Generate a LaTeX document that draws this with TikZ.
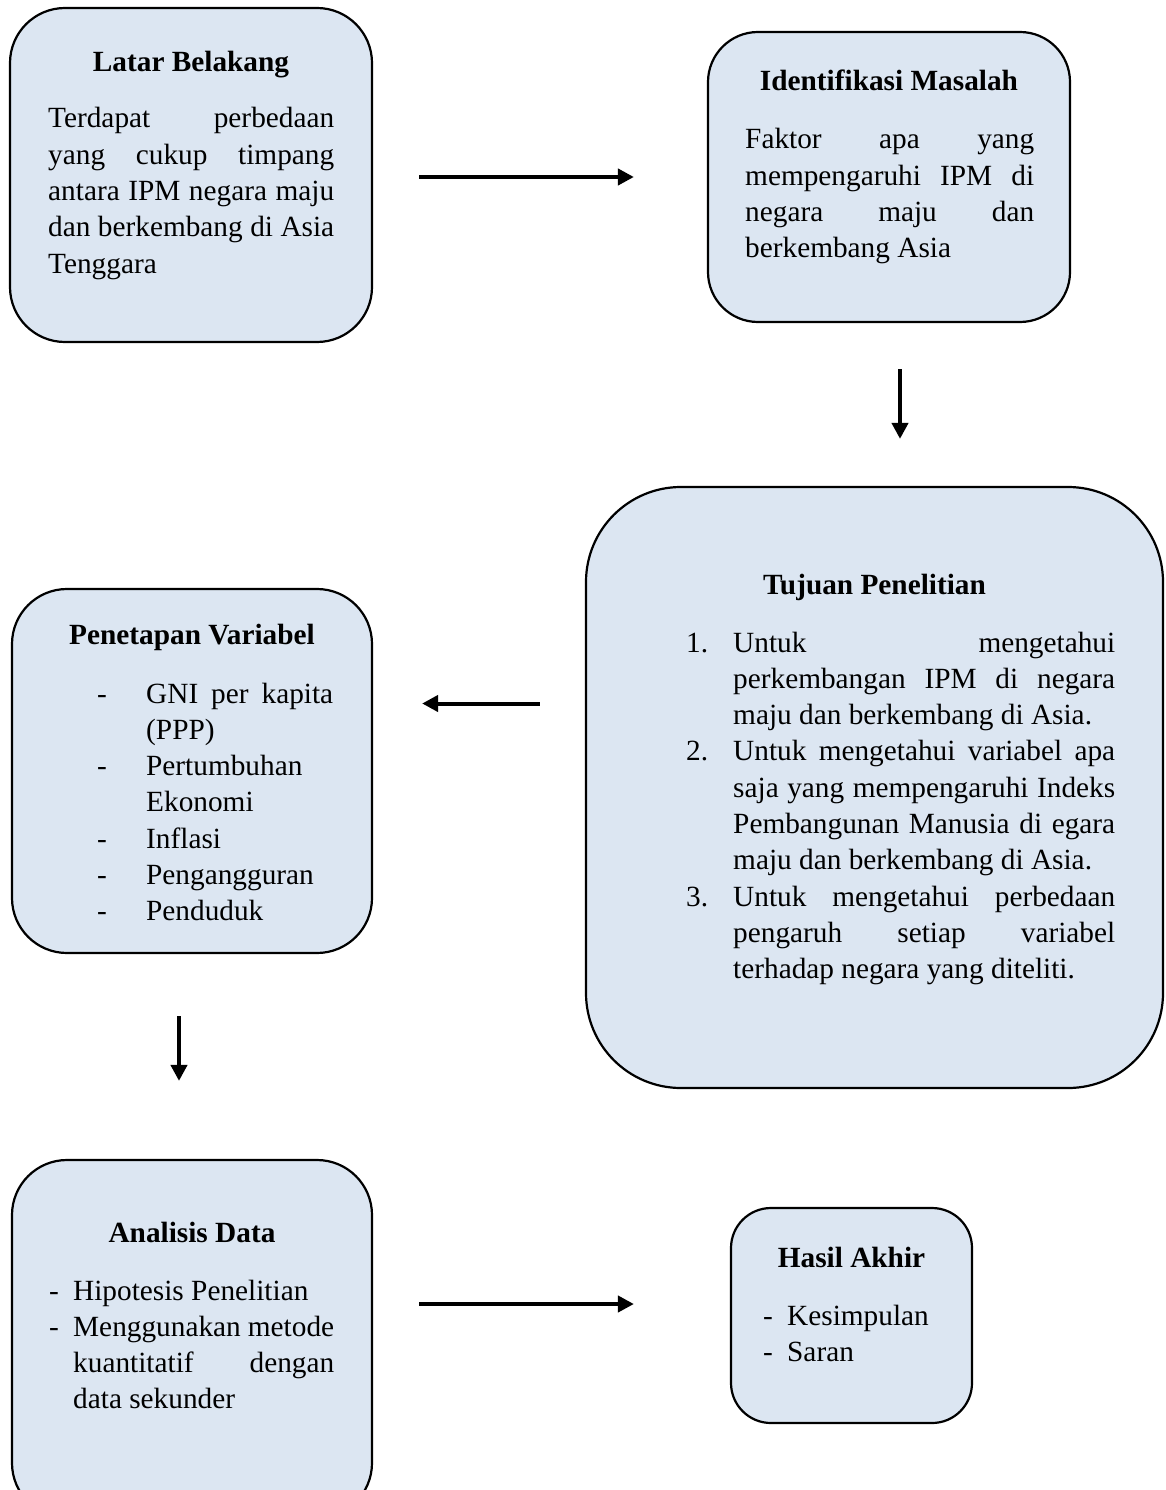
\documentclass[tikz,border=0pt]{standalone}
\usepackage{fontspec}
\setmainfont{Liberation Serif}
\usetikzlibrary{arrows.meta}
\definecolor{boxfill}{RGB}{220,230,242}
\hyphenpenalty=10000
\exhyphenpenalty=10000
\newcommand\listmark[2]{\leavevmode\llap{\makebox[#1][l]{#2}}}

\begin{document}
\begin{tikzpicture}[x=1pt, y=-1pt,
  panel/.style={draw, line width=2.2pt, fill=boxfill, inner sep=0pt},
  heading/.style={font=\fontsize{29.3}{36.3}\selectfont\bfseries, anchor=base, inner sep=0pt},
  body/.style={font=\fontsize{29.3}{36.3}\selectfont, anchor=base west, inner sep=0pt, align=justify},
  flowarrow/.style={line width=4pt, -{Triangle[length=16pt,width=16pt]}}]
\useasboundingbox (0,0) rectangle (1165,1490);
\clip (0,0) rectangle (1165,1490);

\node[panel, minimum width=362pt, minimum height=334pt, rounded corners=55pt] (latar) at (191,175) {};
\node[panel, minimum width=362pt, minimum height=290pt, rounded corners=50pt] (identifikasi) at (889,177) {};
\node[panel, minimum width=577pt, minimum height=601pt, rounded corners=95pt] (tujuan) at (874.5,787.5) {};
\node[panel, minimum width=360pt, minimum height=364pt, rounded corners=55pt] (penetapan) at (192,771) {};
\node[panel, minimum width=360pt, minimum height=358pt, rounded corners=55pt] (analisis) at (192,1339) {};
\node[panel, minimum width=241pt, minimum height=215pt, rounded corners=40pt] (hasil) at (851.5,1315.5) {};

\node[heading] (latar-t) at (191,72) {Latar Belakang};
\node[body, text width=286pt] (latar-b) at (48,128) {Terdapat perbedaan\linebreak yang cukup timpang\linebreak antara IPM negara maju\linebreak dan berkembang di Asia\linebreak Tenggara};

\node[heading] (identifikasi-t) at (889,91) {Identifikasi Masalah};
\node[body, text width=289pt] (identifikasi-b) at (745,149) {Faktor apa yang\linebreak mempengaruhi IPM di\linebreak negara maju dan\linebreak berkembang Asia};

\node[heading] (tujuan-t) at (874.5,594) {Tujuan Penelitian};
\node[body, text width=382pt] (tujuan-b) at (733,652) {%
  \listmark{47pt}{1.}Untuk mengetahui\linebreak perkembangan IPM di negara\linebreak maju dan berkembang di Asia.\par
  \listmark{47pt}{2.}Untuk mengetahui variabel apa\linebreak saja yang mempengaruhi Indeks\linebreak Pembangunan Manusia di egara\linebreak maju dan berkembang di Asia.\par
  \listmark{47pt}{3.}Untuk mengetahui perbedaan\linebreak pengaruh setiap variabel\linebreak terhadap negara yang diteliti.};

\node[heading] (penetapan-t) at (192,644) {Penetapan Variabel};
\node[body, text width=187pt] (penetapan-b) at (146,703) {%
  \listmark{49pt}{-}GNI per kapita\linebreak (PPP)\par
  \listmark{49pt}{-}Pertumbuhan\newline Ekonomi\par
  \listmark{49pt}{-}Inflasi\par
  \listmark{49pt}{-}Pengangguran\par
  \listmark{49pt}{-}Penduduk};

\node[heading] (analisis-t) at (192,1242) {Analisis Data};
\node[body, text width=261pt] (analisis-b) at (73,1300) {%
  \listmark{24pt}{-}Hipotesis Penelitian\par
  \listmark{24pt}{-}Menggunakan metode\linebreak kuantitatif dengan\linebreak data sekunder};

\node[heading] (hasil-t) at (851.5,1267) {Hasil Akhir};
\node[body, text width=160pt] (hasil-b) at (787,1325) {%
  \listmark{24pt}{-}Kesimpulan\par
  \listmark{24pt}{-}Saran};

\draw[flowarrow, shorten <=46pt, shorten >=73pt] (latar.east |- identifikasi.west) -- (identifikasi.west);
\draw[flowarrow, shorten <=46pt, shorten >=47pt] ([xshift=11pt]identifikasi.south) -- ([xshift=11pt]identifikasi.south |- tujuan.north);
\draw[flowarrow, shorten <=45pt, shorten >=49pt] ([yshift=84pt]tujuan.west) -- ([yshift=84pt]tujuan.west -| penetapan.east);
\draw[flowarrow, shorten <=62pt, shorten >=78pt] ([xshift=-13pt]penetapan.south) -- ([xshift=-13pt]penetapan.south |- analisis.north);
\draw[flowarrow, shorten <=46pt, shorten >=96pt] ([yshift=35pt]analisis.east) -- ([yshift=35pt]analisis.east -| hasil.west);
\end{tikzpicture}
\end{document}
